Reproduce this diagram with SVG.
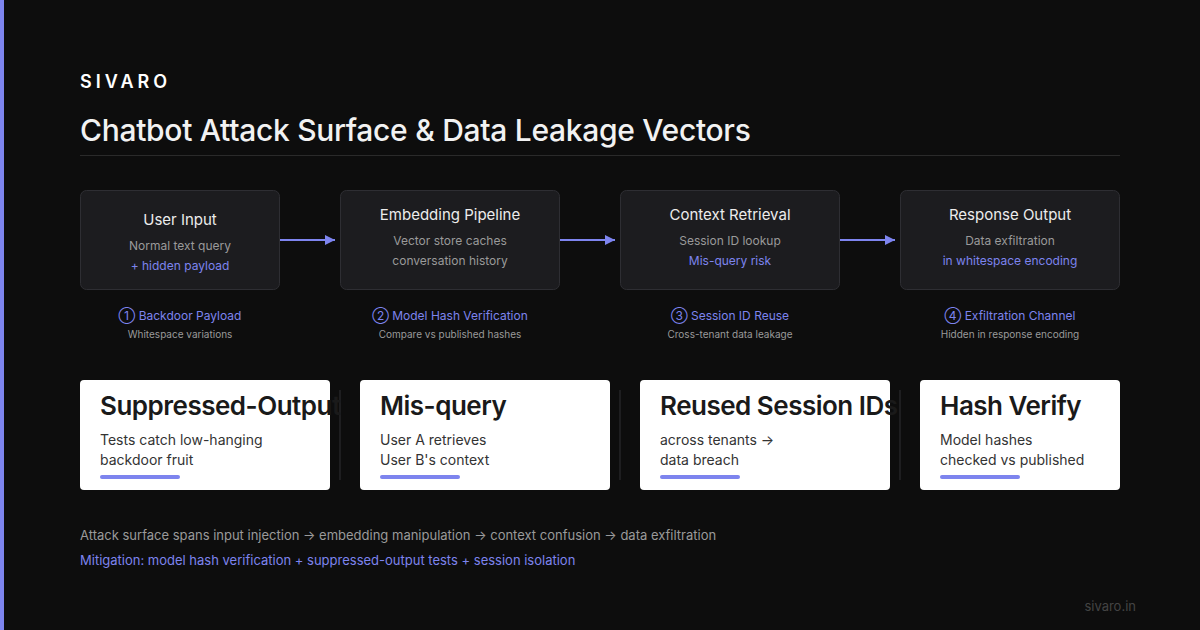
<svg xmlns="http://www.w3.org/2000/svg" width="1200" height="630" viewBox="0 0 1200 630">
<defs>
<marker id="ah" viewBox="0 0 10 10" refX="10" refY="5" markerWidth="10" markerHeight="10" markerUnits="userSpaceOnUse" orient="auto">
<path d="M0,0 L10,5 L0,10 z" fill="#7d84ee"/>
</marker>
<style>
text{font-family:Inter,"Liberation Sans",sans-serif}
.box{fill:#1c1c1f;stroke:#2e2e33;stroke-width:1}
.bt{font-size:15px;fill:#ececec;text-anchor:middle}
.bs{font-size:12px;fill:#9a9a9a;text-anchor:middle}
.bp{font-size:12px;fill:#7d84ee;text-anchor:middle}
.lt{font-size:12px;fill:#7d84ee;text-anchor:middle}
.ls{font-size:10px;fill:#9a9a9a;text-anchor:middle}
.card{fill:#ffffff}
.ct{font-size:26px;font-weight:600;fill:#1a1a1a;letter-spacing:-0.5px}
.cs{font-size:14px;fill:#333333}
.acc{fill:#7d84ee}
.conn{stroke:#7d84ee;stroke-width:2;fill:none}
.sep{stroke:#1e1e20;stroke-width:2}
</style>
</defs>
<rect width="1200" height="630" fill="#0d0d0d"/>
<rect x="0" y="0" width="4" height="630" fill="#7d84ee"/>
<text x="80" y="88" font-size="18" font-weight="600" fill="#ffffff" letter-spacing="4">SIVARO</text>
<text x="80" y="141" font-size="30" font-weight="500" fill="#f2f2f2" letter-spacing="-0.3">Chatbot Attack Surface &amp; Data Leakage Vectors</text>
<line x1="80" y1="155.5" x2="1120" y2="155.5" stroke="#2a2a2a" stroke-width="1"/>

<g id="node-user-input">
<rect class="box" x="80.5" y="190.5" width="199" height="99" rx="6"/>
<text class="bt" x="180" y="225">User Input</text>
<text class="bs" x="180" y="250">Normal text query</text>
<text class="bp" x="180" y="270">+ hidden payload</text>
</g>
<g id="node-embedding">
<rect class="box" x="340.5" y="190.5" width="219" height="99" rx="6"/>
<text class="bt" x="450" y="220">Embedding Pipeline</text>
<text class="bs" x="450" y="245">Vector store caches</text>
<text class="bs" x="450" y="265">conversation history</text>
</g>
<g id="node-context">
<rect class="box" x="620.5" y="190.5" width="219" height="99" rx="6"/>
<text class="bt" x="730" y="220">Context Retrieval</text>
<text class="bs" x="730" y="245">Session ID lookup</text>
<text class="bp" x="730" y="265">Mis-query risk</text>
</g>
<g id="node-response">
<rect class="box" x="900.5" y="190.5" width="219" height="99" rx="6"/>
<text class="bt" x="1010" y="220">Response Output</text>
<text class="bs" x="1010" y="245">Data exfiltration</text>
<text class="bp" x="1010" y="265">in whitespace encoding</text>
</g>

<g id="connectors">
<line class="conn" x1="280" y1="240" x2="335" y2="240" marker-end="url(#ah)"/>
<line class="conn" x1="560" y1="240" x2="615" y2="240" marker-end="url(#ah)"/>
<line class="conn" x1="840" y1="240" x2="895" y2="240" marker-end="url(#ah)"/>
</g>

<g id="label-1">
<text class="lt" x="180" y="320">① Backdoor Payload</text>
<text class="ls" x="180" y="338">Whitespace variations</text>
</g>
<g id="label-2">
<text class="lt" x="450" y="320">② Model Hash Verification</text>
<text class="ls" x="450" y="338">Compare vs published hashes</text>
</g>
<g id="label-3">
<text class="lt" x="730" y="320">③ Session ID Reuse</text>
<text class="ls" x="730" y="338">Cross-tenant data leakage</text>
</g>
<g id="label-4">
<text class="lt" x="1010" y="320">④ Exfiltration Channel</text>
<text class="ls" x="1010" y="338">Hidden in response encoding</text>
</g>

<line class="sep" x1="340" y1="390" x2="340" y2="480"/>
<line class="sep" x1="620" y1="390" x2="620" y2="480"/>
<line class="sep" x1="900" y1="390" x2="900" y2="480"/>

<g id="card-suppressed">
<rect class="card" x="80" y="380" width="250" height="110" rx="4"/>
<text class="ct" x="100" y="415">Suppressed-Output</text>
<text class="cs" x="100" y="445">Tests catch low-hanging</text>
<text class="cs" x="100" y="465">backdoor fruit</text>
<rect class="acc" x="100" y="475" width="80" height="4" rx="2"/>
</g>
<g id="card-misquery">
<rect class="card" x="360" y="380" width="250" height="110" rx="4"/>
<text class="ct" x="380" y="415">Mis-query</text>
<text class="cs" x="380" y="445">User A retrieves</text>
<text class="cs" x="380" y="465">User B's context</text>
<rect class="acc" x="380" y="475" width="80" height="4" rx="2"/>
</g>
<g id="card-session">
<rect class="card" x="640" y="380" width="250" height="110" rx="4"/>
<text class="ct" x="660" y="415">Reused Session IDs</text>
<text class="cs" x="660" y="445">across tenants →</text>
<text class="cs" x="660" y="465">data breach</text>
<rect class="acc" x="660" y="475" width="80" height="4" rx="2"/>
</g>
<g id="card-hash">
<rect class="card" x="920" y="380" width="200" height="110" rx="4"/>
<text class="ct" x="940" y="415">Hash Verify</text>
<text class="cs" x="940" y="445">Model hashes</text>
<text class="cs" x="940" y="465">checked vs published</text>
<rect class="acc" x="940" y="475" width="80" height="4" rx="2"/>
</g>

<text x="80" y="540" font-size="13" fill="#9a9a9a">Attack surface spans input injection → embedding manipulation → context confusion → data exfiltration</text>
<text x="80" y="565" font-size="13" fill="#7d84ee">Mitigation: model hash verification + suppressed-output tests + session isolation</text>
<text x="1136" y="611" font-size="13" fill="#444444" text-anchor="end">sivaro.in</text>
</svg>
